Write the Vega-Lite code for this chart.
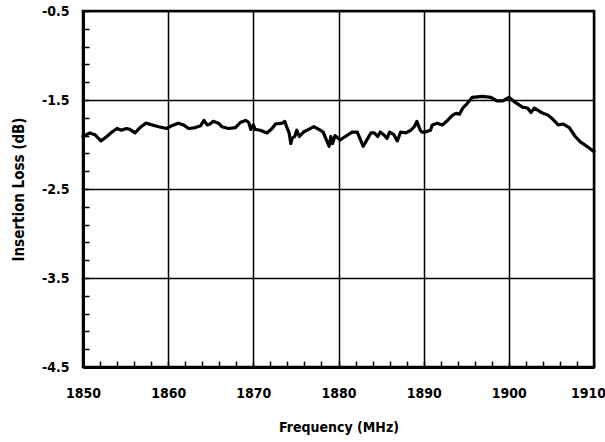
{
  "$schema": "https://vega.github.io/schema/vega-lite/v6.json",
  "width": 511,
  "height": 356,
  "autosize": "none",
  "padding": {"left": 83, "top": 11, "right": 11, "bottom": 75},
  "background": "white",
  "config": {
    "view": {"stroke": "black", "strokeWidth": 2.5},
    "axis": {
      "labelFont": "Liberation Sans Narrow, DejaVu Sans Condensed, sans-serif",
      "titleFont": "Liberation Sans Narrow, DejaVu Sans Condensed, sans-serif",
      "labelFontWeight": "bold",
      "titleFontWeight": "bold",
      "labelFontSize": 14,
      "titleFontSize": 14,
      "labelColor": "black",
      "titleColor": "black",
      "domainColor": "black",
      "domainWidth": 3,
      "tickColor": "black",
      "tickWidth": 1.5,
      "gridColor": "black",
      "gridWidth": 1.5
    }
  },
  "data": {
    "values": [
      {"f": 1850.0, "loss": -1.91},
      {"f": 1850.8, "loss": -1.87},
      {"f": 1851.4, "loss": -1.89},
      {"f": 1852.1, "loss": -1.96},
      {"f": 1852.8, "loss": -1.91},
      {"f": 1853.4, "loss": -1.86},
      {"f": 1854.0, "loss": -1.82},
      {"f": 1854.5, "loss": -1.84},
      {"f": 1855.1, "loss": -1.82},
      {"f": 1855.5, "loss": -1.83},
      {"f": 1856.1, "loss": -1.87},
      {"f": 1856.7, "loss": -1.81},
      {"f": 1857.4, "loss": -1.76},
      {"f": 1858.1, "loss": -1.78},
      {"f": 1858.9, "loss": -1.80},
      {"f": 1859.8, "loss": -1.82},
      {"f": 1860.4, "loss": -1.79},
      {"f": 1861.2, "loss": -1.76},
      {"f": 1861.8, "loss": -1.78},
      {"f": 1862.4, "loss": -1.82},
      {"f": 1863.2, "loss": -1.81},
      {"f": 1863.8, "loss": -1.79},
      {"f": 1864.2, "loss": -1.73},
      {"f": 1864.6, "loss": -1.78},
      {"f": 1864.9, "loss": -1.77},
      {"f": 1865.3, "loss": -1.74},
      {"f": 1865.9, "loss": -1.76},
      {"f": 1866.3, "loss": -1.80},
      {"f": 1867.1, "loss": -1.82},
      {"f": 1867.9, "loss": -1.81},
      {"f": 1868.5, "loss": -1.75},
      {"f": 1869.1, "loss": -1.73},
      {"f": 1869.45, "loss": -1.75},
      {"f": 1869.7, "loss": -1.83},
      {"f": 1870.0, "loss": -1.78},
      {"f": 1870.2, "loss": -1.83},
      {"f": 1870.8, "loss": -1.84},
      {"f": 1871.6, "loss": -1.87},
      {"f": 1872.2, "loss": -1.82},
      {"f": 1872.6, "loss": -1.77},
      {"f": 1873.4, "loss": -1.76},
      {"f": 1873.7, "loss": -1.74},
      {"f": 1873.9, "loss": -1.80},
      {"f": 1874.2, "loss": -1.87},
      {"f": 1874.4, "loss": -1.99},
      {"f": 1874.55, "loss": -1.93},
      {"f": 1874.86, "loss": -1.91},
      {"f": 1875.1, "loss": -1.84},
      {"f": 1875.4, "loss": -1.91},
      {"f": 1875.9, "loss": -1.86},
      {"f": 1876.5, "loss": -1.83},
      {"f": 1877.1, "loss": -1.80},
      {"f": 1877.7, "loss": -1.83},
      {"f": 1878.2, "loss": -1.86},
      {"f": 1878.5, "loss": -1.93},
      {"f": 1878.9, "loss": -2.02},
      {"f": 1879.1, "loss": -1.91},
      {"f": 1879.3, "loss": -1.99},
      {"f": 1879.6, "loss": -1.90},
      {"f": 1880.2, "loss": -1.95},
      {"f": 1880.8, "loss": -1.91},
      {"f": 1881.6, "loss": -1.86},
      {"f": 1882.2, "loss": -1.86},
      {"f": 1882.6, "loss": -1.95},
      {"f": 1882.9, "loss": -2.02},
      {"f": 1883.2, "loss": -1.97},
      {"f": 1883.8, "loss": -1.87},
      {"f": 1884.2, "loss": -1.87},
      {"f": 1884.6, "loss": -1.91},
      {"f": 1884.9, "loss": -1.86},
      {"f": 1885.3, "loss": -1.89},
      {"f": 1885.7, "loss": -1.93},
      {"f": 1886.0, "loss": -1.86},
      {"f": 1886.5, "loss": -1.89},
      {"f": 1886.9, "loss": -1.96},
      {"f": 1887.3, "loss": -1.86},
      {"f": 1887.9, "loss": -1.87},
      {"f": 1888.5, "loss": -1.84},
      {"f": 1888.9, "loss": -1.80},
      {"f": 1889.2, "loss": -1.74},
      {"f": 1889.6, "loss": -1.84},
      {"f": 1889.8, "loss": -1.86},
      {"f": 1890.2, "loss": -1.86},
      {"f": 1890.8, "loss": -1.84},
      {"f": 1891.0, "loss": -1.78},
      {"f": 1891.6, "loss": -1.76},
      {"f": 1892.2, "loss": -1.78},
      {"f": 1892.8, "loss": -1.73},
      {"f": 1893.4, "loss": -1.67},
      {"f": 1893.8, "loss": -1.65},
      {"f": 1894.2, "loss": -1.66},
      {"f": 1894.6, "loss": -1.59},
      {"f": 1895.1, "loss": -1.54},
      {"f": 1895.7, "loss": -1.47},
      {"f": 1896.9, "loss": -1.46},
      {"f": 1897.9, "loss": -1.47},
      {"f": 1898.6, "loss": -1.51},
      {"f": 1899.3, "loss": -1.51},
      {"f": 1900.0, "loss": -1.47},
      {"f": 1900.8, "loss": -1.53},
      {"f": 1901.6, "loss": -1.58},
      {"f": 1902.2, "loss": -1.59},
      {"f": 1902.6, "loss": -1.64},
      {"f": 1903.0, "loss": -1.59},
      {"f": 1903.8, "loss": -1.64},
      {"f": 1904.6, "loss": -1.67},
      {"f": 1905.2, "loss": -1.72},
      {"f": 1905.8, "loss": -1.78},
      {"f": 1906.4, "loss": -1.77},
      {"f": 1907.1, "loss": -1.81},
      {"f": 1907.8, "loss": -1.91},
      {"f": 1908.4, "loss": -1.97},
      {"f": 1909.0, "loss": -2.01},
      {"f": 1909.6, "loss": -2.05},
      {"f": 1910.0, "loss": -2.08}
    ]
  },
  "mark": {"type": "line", "color": "black", "strokeWidth": 3.2, "strokeJoin": "round", "strokeCap": "round"},
  "encoding": {
    "x": {
      "field": "f",
      "type": "quantitative",
      "scale": {"domain": [1850, 1910], "nice": false, "zero": false},
      "axis": {
        "title": "Frequency  (MHz)",
        "titlePadding": 20,
        "values": [1850,1852,1854,1856,1858,1860,1862,1864,1866,1868,1870,1872,1874,1876,1878,1880,1882,1884,1886,1888,1890,1892,1894,1896,1898,1900,1902,1904,1906,1908,1910],
        "labelExpr": "datum.value % 10 == 0 ? datum.label : ''",
        "format": "d",
        "tickSize": -6,
        "labelPadding": 25,
        "labelFlush": false,
        "labelOverlap": false,
        "labelOffset": {"condition": {"test": "datum.value == 1910", "value": -6}, "value": 0},
        "gridOpacity": {"condition": {"test": "datum.value % 10 == 0", "value": 1}, "value": 0}
      }
    },
    "y": {
      "field": "loss",
      "type": "quantitative",
      "scale": {"domain": [-4.5, -0.5], "nice": false, "zero": false},
      "axis": {
        "title": "Insertion Loss (dB)",
        "titleFontSize": 15,
        "titlePadding": 15,
        "values": [-4.5,-4.3,-4.1,-3.9,-3.7,-3.5,-3.3,-3.1,-2.9,-2.7,-2.5,-2.3,-2.1,-1.9,-1.7,-1.5,-1.3,-1.1,-0.9,-0.7,-0.5],
        "labelExpr": "abs(round(datum.value*10)) % 10 == 5 ? '' + datum.value : ''",
        "tickSize": -6,
        "labelPadding": 20,
        "labelFlush": false,
        "labelOverlap": false,
        "gridOpacity": {"condition": {"test": "abs(round(datum.value*10)) % 10 == 5", "value": 1}, "value": 0}
      }
    }
  }
}
